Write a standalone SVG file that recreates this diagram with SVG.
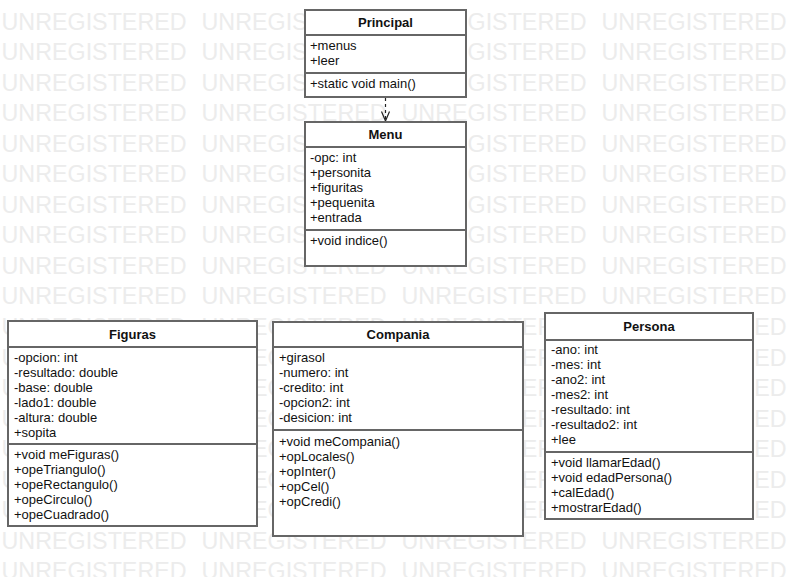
<svg xmlns="http://www.w3.org/2000/svg" xmlns:xlink="http://www.w3.org/1999/xlink" width="793" height="577" viewBox="0 0 793 577">
<style>
.wm{font-family:"Liberation Sans",Arial,sans-serif;font-size:23.3px;fill:#ececec}
.box{fill:#ffffff;stroke:#666666;stroke-width:2}
.sep{stroke:#666666;stroke-width:2}
.title{font-family:"Liberation Sans",Arial,sans-serif;font-size:13px;font-weight:bold;fill:#111111;text-anchor:middle}
.txt{font-family:"Liberation Sans",Arial,sans-serif;font-size:13px;fill:#111111}
.dep{fill:none;stroke:#222222;stroke-width:1.2}
</style>
<defs>
<text id="wmrow" class="wm" y="0"><tspan x="1.5">UNREGISTERED</tspan><tspan x="201.5">UNREGISTERED</tspan><tspan x="401.5">UNREGISTERED</tspan><tspan x="601.5">UNREGISTERED</tspan></text>
</defs>
<rect width="793" height="577" fill="#ffffff"/>
<g id="watermark">
<use xlink:href="#wmrow" y="29.5"/>
<use xlink:href="#wmrow" y="60.05"/>
<use xlink:href="#wmrow" y="90.6"/>
<use xlink:href="#wmrow" y="121.15"/>
<use xlink:href="#wmrow" y="151.7"/>
<use xlink:href="#wmrow" y="182.25"/>
<use xlink:href="#wmrow" y="212.8"/>
<use xlink:href="#wmrow" y="243.35"/>
<use xlink:href="#wmrow" y="273.9"/>
<use xlink:href="#wmrow" y="304.45"/>
<use xlink:href="#wmrow" y="335"/>
<use xlink:href="#wmrow" y="365.55"/>
<use xlink:href="#wmrow" y="396.1"/>
<use xlink:href="#wmrow" y="426.65"/>
<use xlink:href="#wmrow" y="457.2"/>
<use xlink:href="#wmrow" y="487.75"/>
<use xlink:href="#wmrow" y="518.3"/>
<use xlink:href="#wmrow" y="548.85"/>
<use xlink:href="#wmrow" y="579.4"/>
</g>
<g id="connectors">
<line class="dep" x1="385.5" y1="98" x2="385.5" y2="120" stroke-dasharray="3,3"/>
<polyline class="dep" points="381.5,111.5 385.5,121 389.5,111.5"/>
</g>
<g id="Principal">
<rect class="box" x="305" y="10" width="161" height="87"/>
<line class="sep" x1="305" y1="35" x2="466" y2="35"/>
<line class="sep" x1="305" y1="73" x2="466" y2="73"/>
<text class="title" x="385.5" y="27">Principal</text>
<text class="txt" x="310" y="50">+menus</text>
<text class="txt" x="310" y="65">+leer</text>
<text class="txt" x="310" y="88">+static void main()</text>
</g>
<g id="Menu">
<rect class="box" x="305" y="122" width="161" height="144"/>
<line class="sep" x1="305" y1="147" x2="466" y2="147"/>
<line class="sep" x1="305" y1="230" x2="466" y2="230"/>
<text class="title" x="385.5" y="139">Menu</text>
<text class="txt" x="310" y="162">-opc: int</text>
<text class="txt" x="310" y="177">+personita</text>
<text class="txt" x="310" y="192">+figuritas</text>
<text class="txt" x="310" y="207">+pequenita</text>
<text class="txt" x="310" y="222">+entrada</text>
<text class="txt" x="310" y="245">+void indice()</text>
</g>
<g id="Figuras">
<rect class="box" x="8" y="321" width="249" height="205"/>
<line class="sep" x1="8" y1="347" x2="257" y2="347"/>
<line class="sep" x1="8" y1="444" x2="257" y2="444"/>
<text class="title" x="132.5" y="339">Figuras</text>
<text class="txt" x="14" y="361.5">-opcion: int</text>
<text class="txt" x="14" y="376.5">-resultado: double</text>
<text class="txt" x="14" y="391.5">-base: double</text>
<text class="txt" x="14" y="406.5">-lado1: double</text>
<text class="txt" x="14" y="421.5">-altura: double</text>
<text class="txt" x="14" y="436.5">+sopita</text>
<text class="txt" x="14" y="459">+void meFiguras()</text>
<text class="txt" x="14" y="474">+opeTriangulo()</text>
<text class="txt" x="14" y="489">+opeRectangulo()</text>
<text class="txt" x="14" y="504">+opeCirculo()</text>
<text class="txt" x="14" y="519">+opeCuadrado()</text>
</g>
<g id="Compania">
<rect class="box" x="273" y="322" width="250" height="214"/>
<line class="sep" x1="273" y1="347" x2="523" y2="347"/>
<line class="sep" x1="273" y1="430" x2="523" y2="430"/>
<text class="title" x="398" y="339">Compania</text>
<text class="txt" x="279" y="361.5">+girasol</text>
<text class="txt" x="279" y="376.5">-numero: int</text>
<text class="txt" x="279" y="391.5">-credito: int</text>
<text class="txt" x="279" y="406.5">-opcion2: int</text>
<text class="txt" x="279" y="421.5">-desicion: int</text>
<text class="txt" x="279" y="446">+void meCompania()</text>
<text class="txt" x="279" y="461">+opLocales()</text>
<text class="txt" x="279" y="476">+opInter()</text>
<text class="txt" x="279" y="491">+opCel()</text>
<text class="txt" x="279" y="506">+opCredi()</text>
</g>
<g id="Persona">
<rect class="box" x="545" y="313" width="208" height="206"/>
<line class="sep" x1="545" y1="340" x2="753" y2="340"/>
<line class="sep" x1="545" y1="452" x2="753" y2="452"/>
<text class="title" x="649" y="331">Persona</text>
<text class="txt" x="551" y="354">-ano: int</text>
<text class="txt" x="551" y="369">-mes: int</text>
<text class="txt" x="551" y="384">-ano2: int</text>
<text class="txt" x="551" y="399">-mes2: int</text>
<text class="txt" x="551" y="414">-resultado: int</text>
<text class="txt" x="551" y="429">-resultado2: int</text>
<text class="txt" x="551" y="444">+lee</text>
<text class="txt" x="551" y="467">+void llamarEdad()</text>
<text class="txt" x="551" y="482">+void edadPersona()</text>
<text class="txt" x="551" y="497">+calEdad()</text>
<text class="txt" x="551" y="512">+mostrarEdad()</text>
</g>
</svg>
